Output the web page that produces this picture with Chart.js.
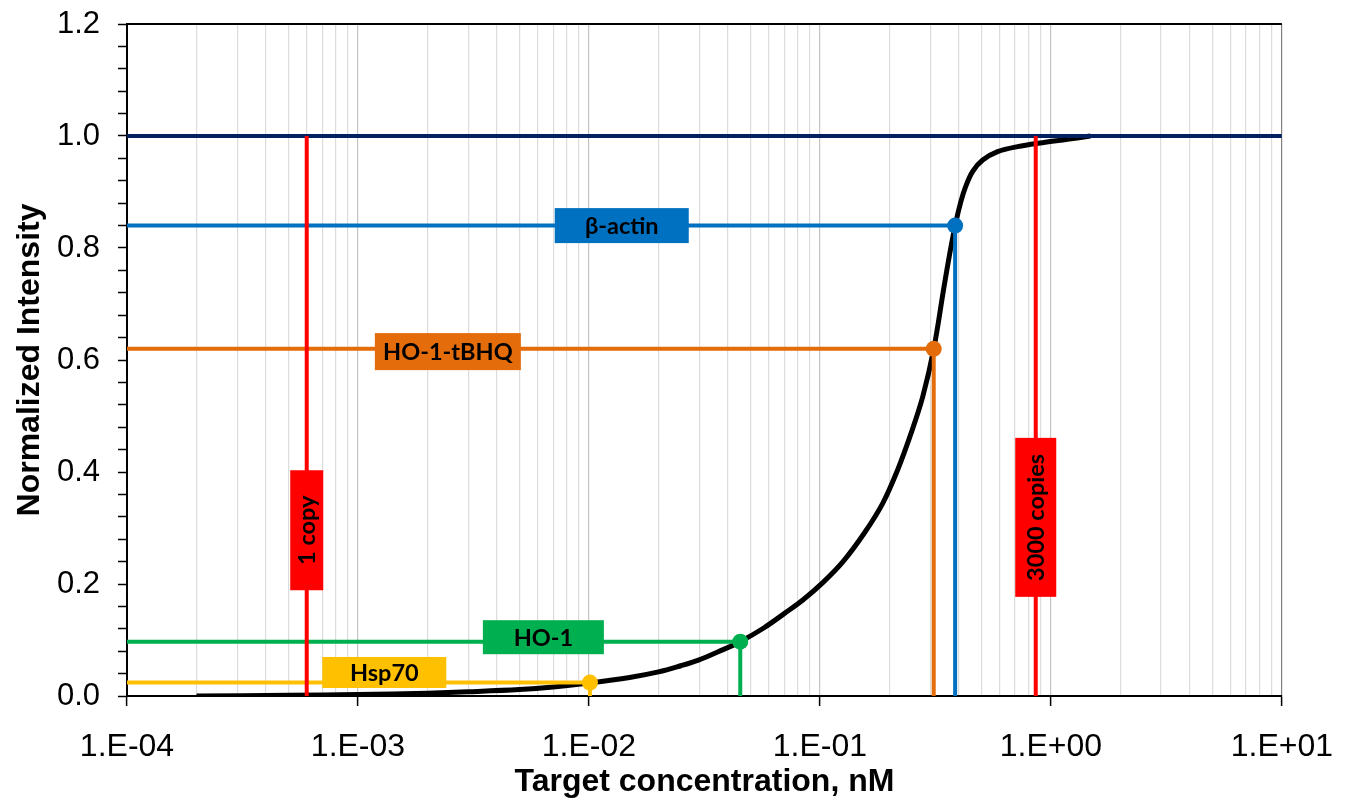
<!DOCTYPE html>
<html>
<head>
<meta charset="utf-8">
<script src="https://cdn.jsdelivr.net/npm/chart.js@4/dist/chart.umd.min.js"></script>
<style>
  html, body { margin: 0; padding: 0; background: #fff; }
</style>
</head>
<body>
<canvas id="chart" width="1355" height="806"></canvas>
<script>
// calibration curve: target concentration (nM) vs normalized intensity
const curveConc = [2e-4, 5e-4, 1e-3, 2e-3, 3e-3, 5e-3, 7e-3, 1e-2, 1.5e-2, 2e-2, 2.5e-2, 0.0298, 0.0363, 0.0451,
  0.0569, 0.0705, 0.0846, 0.1032, 0.1259, 0.1563, 0.1875, 0.2176, 0.2476, 0.279, 0.3112, 0.3438, 0.3649,
  0.3874, 0.4071, 0.4279, 0.4587, 0.5068, 0.5879, 0.7174, 0.9199, 1.179, 1.483];
const curveInt = [0, 0.0012, 0.0025, 0.005, 0.0075, 0.0115, 0.016, 0.023, 0.033, 0.043, 0.054, 0.064, 0.079, 0.097,
  0.121, 0.148, 0.172, 0.203, 0.240, 0.292, 0.345, 0.405, 0.468, 0.535, 0.620, 0.728, 0.790,
  0.845, 0.882, 0.910, 0.937, 0.957, 0.972, 0.981, 0.988, 0.994, 1.0];

// genes
const geneNames = ['β-actin', 'HO-1-tBHQ', 'HO-1', 'Hsp70'];
const geneConc = [0.385, 0.311, 0.0452, 0.0101];
const geneInt = [0.84, 0.62, 0.097, 0.024];

// copy-number markers
const copyNames = ['1 copy', '3000 copies'];
const copyConc = [6e-4, 0.86];
const copyTop = 1.0;

const saturation = 1.0;

// box label anchors (data coords)
const labelTexts = ['β-actin', 'HO-1-tBHQ', 'HO-1', 'Hsp70', '1 copy', '3000 copies'];
const labelConc = [0.01387, 0.00245, 0.00635, 0.0013, 6e-4, 0.86];
const labelInt = [0.84, 0.615, 0.105, 0.042, 0.296, 0.319];

const xTickValues = [1e-4, 1e-3, 1e-2, 1e-1, 1e0, 1e1];
const xTickLabels = ['1.E-04', '1.E-03', '1.E-02', '1.E-01', '1.E+00', '1.E+01'];

// styles
const geneColors = ['#0070C0', '#E46C0A', '#00B050', '#FFC000'];
const red = '#FF0000';
const navy = '#002060';
const labelStyle = [
  { color: '#0070C0', w: 134, h: 35, rot: false },
  { color: '#E46C0A', w: 146, h: 37, rot: false },
  { color: '#00B050', w: 121, h: 34, rot: false },
  { color: '#FFC000', w: 124, h: 31, rot: false },
  { color: '#FF0000', w: 33, h: 120, rot: true },
  { color: '#FF0000', w: 41, h: 159, rot: true }
];
const fontFam = '"Liberation Sans", Arial, sans-serif';
const xMin = 1e-4, xMax = 10;

const isDecade = v => Math.abs(Math.log10(v) - Math.round(Math.log10(v))) < 1e-9;

const datasets = [];
copyConc.forEach(c => {
  datasets.push({
    data: [{ x: c, y: 0 }, { x: c, y: copyTop }],
    borderColor: red, borderWidth: 4, pointRadius: 0
  });
});
geneNames.forEach((g, i) => {
  datasets.push({
    label: g,
    data: [{ x: xMin, y: geneInt[i] }, { x: geneConc[i], y: geneInt[i] }, { x: geneConc[i], y: 0 }],
    borderColor: geneColors[i], backgroundColor: geneColors[i],
    borderWidth: 4, pointRadius: [0, 8, 0], pointBorderWidth: 0
  });
});
datasets.push({
  data: [{ x: xMin, y: saturation }, { x: xMax, y: saturation }],
  borderColor: navy, borderWidth: 4, pointRadius: 0
});
datasets.push({
  data: curveConc.map((c, i) => ({ x: c, y: curveInt[i] })),
  borderColor: '#000', borderWidth: 5, pointRadius: 0,
  tension: 0.35
});

// boxes with text on top of the lines, plus the plot frame
const boxLabels = {
  id: 'boxLabels',
  afterDatasetsDraw(chart) {
    const { ctx, chartArea: a, scales: { x, y } } = chart;
    ctx.save();
    ctx.strokeStyle = '#000';
    ctx.lineWidth = 2;
    ctx.beginPath();
    ctx.moveTo(a.left, a.top);
    ctx.lineTo(a.right, a.top);
    ctx.stroke();

    labelTexts.forEach((t, i) => {
      const s = labelStyle[i];
      const cx = x.getPixelForValue(labelConc[i]);
      const cy = y.getPixelForValue(labelInt[i]);
      ctx.fillStyle = s.color;
      ctx.fillRect(cx - s.w / 2, cy - s.h / 2, s.w, s.h);
      ctx.save();
      ctx.translate(cx, cy);
      if (s.rot) ctx.rotate(-Math.PI / 2);
      ctx.fillStyle = '#000';
      ctx.font = 'bold 23.5px Lato, "Open Sans", sans-serif';
      ctx.textAlign = 'center';
      ctx.textBaseline = 'middle';
      ctx.fillText(t, 0, 1);
      ctx.restore();
    });
    ctx.restore();
  }
};

new Chart(document.getElementById('chart'), {
  type: 'scatter',
  data: { datasets },
  options: {
    responsive: false,
    animation: false,
    events: [],
    showLine: true,
    layout: { padding: { top: 24, right: 70, left: 0, bottom: 0 } },
    plugins: { legend: { display: false }, tooltip: { enabled: false } },
    elements: { line: { tension: 0 } },
    scales: {
      x: {
        type: 'logarithmic',
        min: xMin, max: xMax,
        afterBuildTicks: scale => {
          const ticks = [];
          for (let e = -4; e <= 0; e++) {
            for (let m = 1; m <= 9; m++) ticks.push({ value: m * Math.pow(10, e) });
          }
          ticks.push({ value: 10 });
          scale.ticks = ticks;
        },
        afterFit: scale => { scale.height = 110; },
        ticks: {
          autoSkip: false, maxRotation: 0, padding: 22,
          color: '#000',
          font: { family: fontFam, size: 32 },
          callback: v => {
            const i = xTickValues.findIndex(t => Math.abs(t - v) / t < 1e-9);
            return i >= 0 ? xTickLabels[i] : '';
          }
        },
        grid: {
          color: c => {
            const v = c.tick ? c.tick.value : 1;
            if (Math.abs(v - 10) < 1e-9) return '#808080';
            return isDecade(v) ? '#c4c4c4' : '#dcdcdc';
          },
          lineWidth: 1.2,
          tickLength: 10,
          tickColor: c => (c.tick && isDecade(c.tick.value) ? '#000' : 'rgba(0,0,0,0)'),
          tickWidth: 1.5
        },
        border: { color: '#000', width: 2 },
        title: {
          display: true,
          text: 'Target concentration, nM',
          color: '#000',
          font: { family: fontFam, size: 32, weight: 'bold' },
          padding: { top: 0, bottom: 5 }
        }
      },
      y: {
        min: 0, max: 1.2,
        afterFit: scale => {
          scale.width = 127;
          scale.paddingTop = 0;
          scale.paddingBottom = 0;
        },
        ticks: {
          stepSize: 0.04, padding: 18, autoSkip: false,
          color: '#000',
          font: { family: fontFam, size: 31 },
          callback: v => (Math.abs(v * 5 - Math.round(v * 5)) < 1e-6 ? v.toFixed(1) : '')
        },
        grid: {
          drawOnChartArea: false,
          tickLength: 9,
          tickColor: '#000',
          tickWidth: 1.5
        },
        border: { color: '#000', width: 2 },
        title: {
          display: true,
          text: 'Normalized Intensity',
          color: '#000',
          font: { family: fontFam, size: 32, weight: 'bold' },
          padding: { top: 11, bottom: 0 }
        }
      }
    }
  },
  plugins: [boxLabels]
});
</script>
</body>
</html>
